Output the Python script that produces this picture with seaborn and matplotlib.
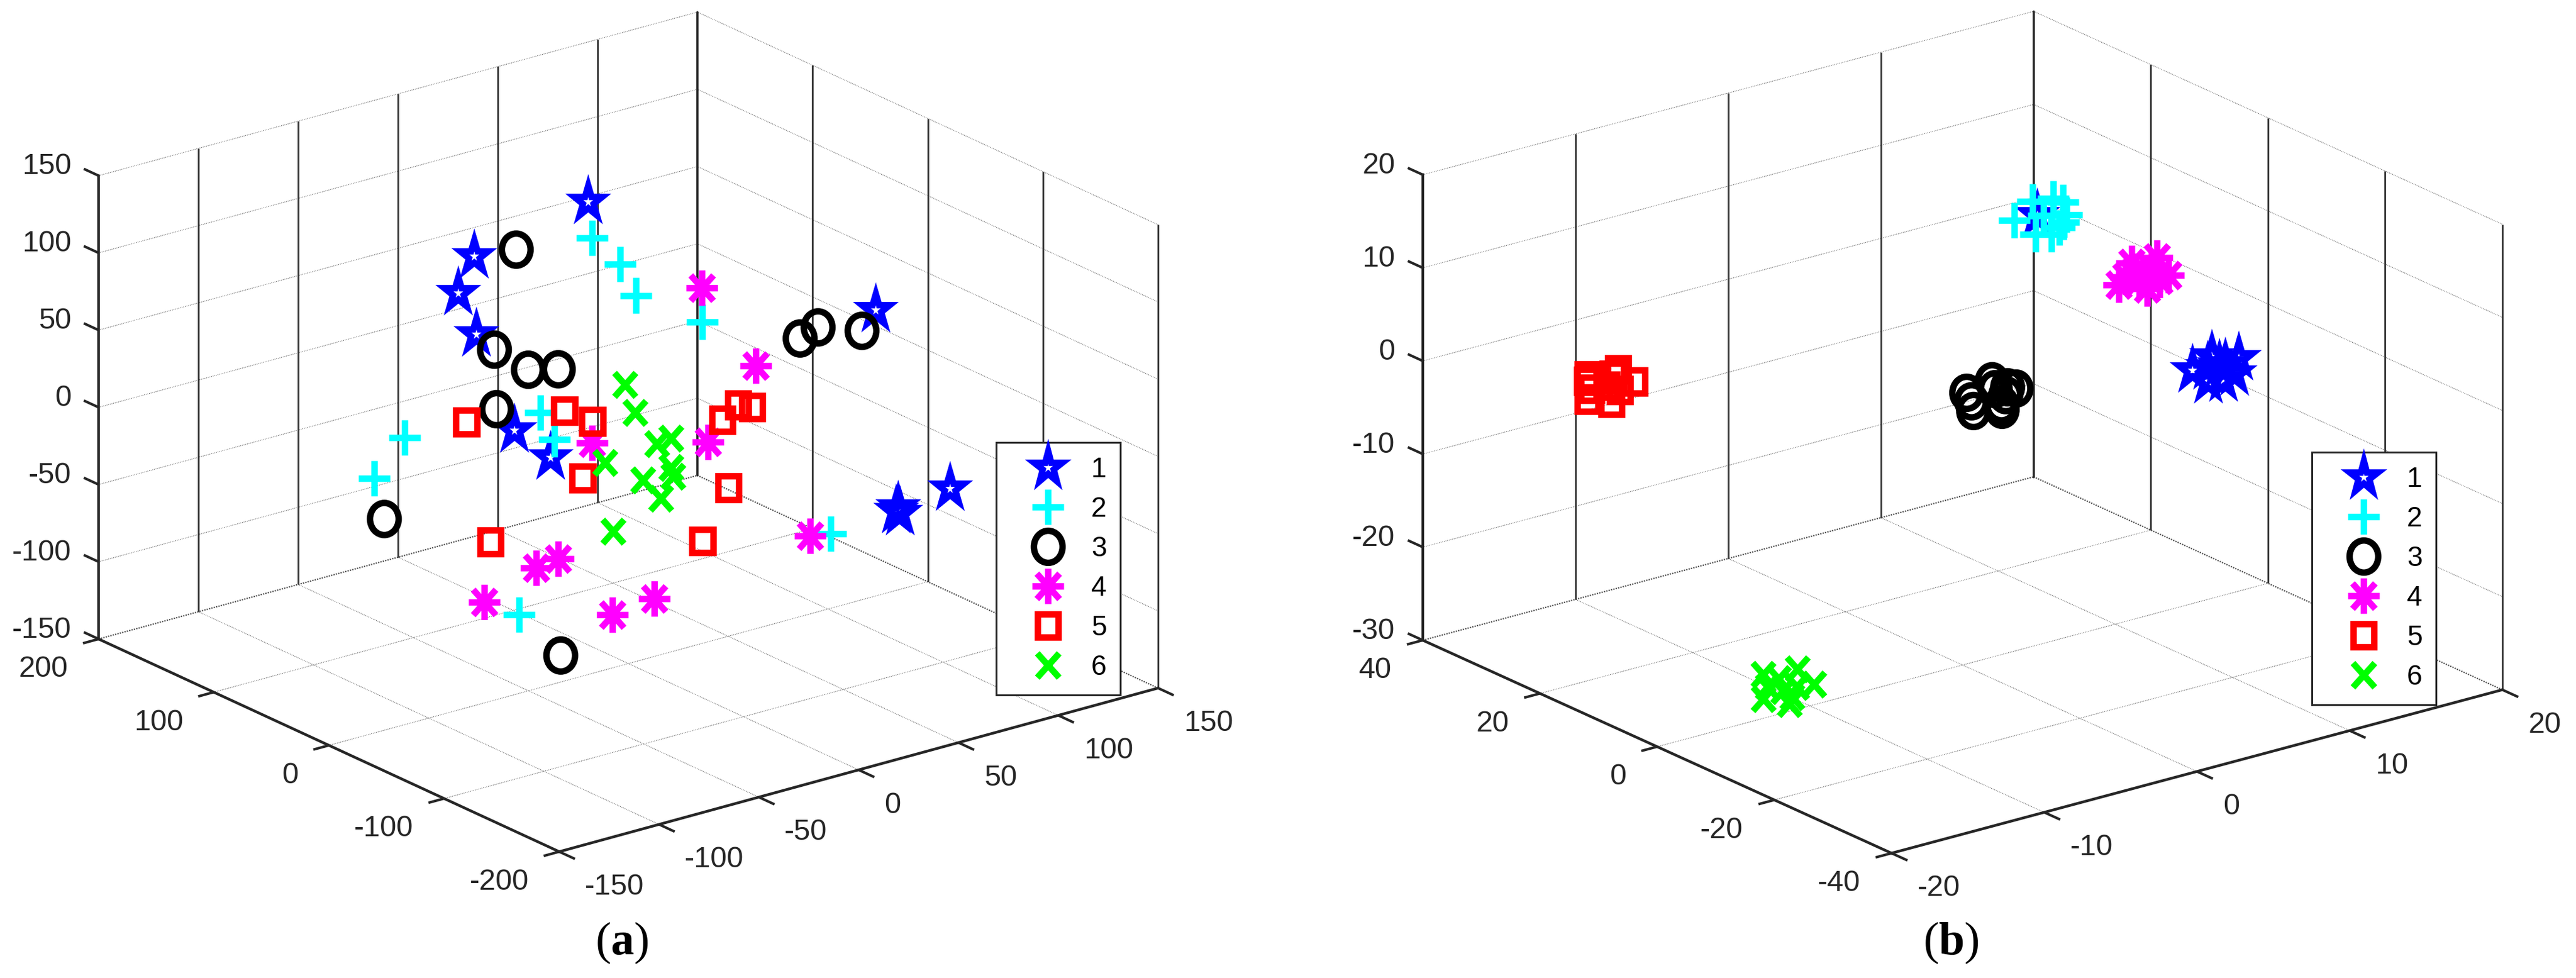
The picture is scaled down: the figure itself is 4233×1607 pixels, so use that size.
import matplotlib
matplotlib.use("Agg")
import matplotlib.pyplot as plt
import seaborn as sns
from matplotlib.lines import Line2D
from matplotlib.markers import MarkerStyle
from matplotlib.path import Path
from matplotlib.transforms import Affine2D
from mpl_toolkits.mplot3d import proj3d

# (x, y, z) per class, panel (a)
a_star = [(3, 40, 134), (-31, 80, 97), (-39, 80, 76), (-53, 40, 68), (-57, 0, 21), (-62, -40, 19),
          (124, 0, 35), (92, -120, -28), (66, -120, -31), (67, -120, -35), (65, -120, -33)]
a_plus = [(5, 40, 110), (19, 40, 88), (27, 40, 65), (37, 0, 58), (-44, 0, 28), (-60, -40, 30),
          (-66, 80, -8), (-58, 120, -51), (-101, -80, -55), (32, -120, -36)]
a_circle = [(-10, 80, 94), (-44, 40, 55), (-27, 40, 36), (-12, 40, 31), (-66, 0, 38), (63, -40, 52),
            (72, -40, 56), (94, -40, 46), (-53, 120, -79), (-80, -80, -89)]
a_asterisk = [(37, 0, 80), (64, 0, 20), (-18, 0, -1), (17, -40, 1), (22, -120, -34), (-33, -80, -69),
              (-46, 0, -72), (-35, 0, -70), (-72, 0, -85), (-54, -80, -72)]
a_square = [(-58, 40, 13), (-32, 0, 25), (-18, 0, 13), (-46, -40, 0), (24, -40, 13), (32, -40, 20),
            (39, -40, 16), (4, -80, -10), (-9, -80, -40), (-69, 0, -47)]
a_cross = [(10, 20, 20), (-8, -20, 22), (26, 20, -24), (10, -20, -1), (0, 20, -27), (10, -20, -20),
           (19, 20, -45), (11, -20, -26), (28, 20, -60), (-19, -20, -51)]

# (x, y, z) per class, panel (b)
b_star = [(7.70, -22.5, 6.18), (8.31, -25.5, 6.58), (6.43, -22.5, 5.24), (6.32, -25.5, 4.98), (8.46, -22.5, 3.37),
          (8.03, -25.5, 5.06), (8.58, -22.5, 4.95), (7.04, -25.5, 6.35), (7.42, -22.5, 5.13), (4.90, 0, 16.15)]
b_plus = [(5.15, 1.5, 17.12), (5.37, -1.5, 18.21), (7.14, 1.5, 16.17), (2.82, -1.5, 16.97), (5.35, 1.5, 13.50),
          (5.25, -1.5, 14.41), (6.90, 1.5, 13.53), (6.24, -1.5, 16.06), (5.87, 1.5, 15.30), (6.04, -1.5, 15.36)]
b_circle = [(2.38, 5.5, -3.38), (1.68, 2.5, -4.17), (4.05, 5.5, -2.87), (3.55, 2.5, -4.86), (5.61, 5.5, -4.34),
            (3.79, 2.5, -3.39), (2.70, 5.5, -4.43), (3.51, 2.5, -4.25), (4.25, 5.5, -3.81), (3.91, 2.5, -2.60)]
b_asterisk = [(8.72, -10.5, 12.90), (5.91, -13.5, 14.41), (9.47, -10.5, 10.68), (5.07, -13.5, 12.44), (8.08, -10.5, 9.85),
              (6.18, -13.5, 13.44), (8.36, -10.5, 11.95), (5.51, -13.5, 13.09), (7.56, -10.5, 10.96), (7.74, -13.5, 11.77)]
b_square = [(-17.84, 17.5, 3.92), (-18.98, 14.5, 2.66), (-15.84, 17.5, 3.70), (-17.34, 14.5, 4.62), (-16.28, 17.5, 0.29),
            (-16.87, 14.5, 2.78), (-14.77, 17.5, 1.92), (-18.74, 14.5, 3.73), (-16.60, 17.5, 2.26), (-19.02, 14.5, 4.71)]
b_cross = [(-15.53, -6.5, -22.38), (-16.67, -9.5, -23.63), (-13.29, -6.5, -22.78), (-13.36, -9.5, -23.52), (-13.81, -6.5, -26.28),
           (-15.67, -9.5, -21.92), (-15.25, -6.5, -23.81), (-15.39, -9.5, -23.34), (-13.33, -6.5, -24.65), (-14.79, -9.5, -24.25)]

class_labels = ["1", "2", "3", "4", "5", "6"]

a_xticks = [-150, -100, -50, 0, 50, 100, 150]
a_yticks = [-200, -100, 0, 100, 200]
a_zticks = [-150, -100, -50, 0, 50, 100, 150]
b_xticks = [-20, -10, 0, 10, 20]
b_yticks = [-40, -20, 0, 20, 40]
b_zticks = [-30, -20, -10, 0, 10, 20]

W, H = 4233, 1607
DARK = "#262626"

sns.set_theme(style="white")
plt.rcParams["font.family"] = ["Liberation Sans", "DejaVu Sans"]
plt.rcParams["mathtext.fontset"] = "custom"
plt.rcParams["mathtext.rm"] = "Liberation Serif"
plt.rcParams["mathtext.bf"] = "Liberation Serif:bold"

palette = sns.color_palette(["#0000ff", "#00ffff", "#000000", "#ff00ff", "#ff0000", "#00ff00"])

asterisk_path = Path(
    [(0, -1), (0, 1), (-1, 0), (1, 0), (-0.72, -0.72), (0.72, 0.72), (-0.72, 0.72), (0.72, -0.72)],
    [Path.MOVETO, Path.LINETO] * 4,
)
stretch = Affine2D().scale(1, 1.12)
mk = dict(fillstyle="none", transform=stretch, joinstyle="miter", capstyle="butt")
markers = [MarkerStyle(m, **mk) for m in ("*", "+", "o", asterisk_path, "s", "x")]
sizes = [1200, 1400, 1150, 1400, 620, 640]
EDGE = 7.6


def fit_axes(ax, left_px, right_px):
    # place the axes so the two side corners of the floor land on these pixels
    x0, x1, y0, y1, z0 = *ax.get_xlim(), *ax.get_ylim(), ax.get_zlim()[0]
    M = ax.get_proj()
    ul, vl, _ = proj3d.proj_transform(x0, y1, z0, M)
    ur, vr, _ = proj3d.proj_transform(x1, y0, z0, M)
    s = (right_px[0] - left_px[0]) / (ur - ul)
    lim = ax.viewLim
    left = left_px[0] - s * (ul - lim.x0)
    bottom = H - left_px[1] - s * (vl - lim.y0)
    ax.set_position([left / W, bottom / H, s * lim.width / W, s * lim.height / H])


def label_3d(ax, x, y, z, s, **kw):
    # plain 2D text at the projected spot
    u, v, _ = proj3d.proj_transform(x, y, z, ax.get_proj())
    ax.text2D(u, v, s, transform=ax.transData, **kw)


def draw_box(ax, xt, yt, zt):
    x0, x1, y0, y1, z0, z1 = xt[0], xt[-1], yt[0], yt[-1], zt[0], zt[-1]
    xr, yr, zr = x1 - x0, y1 - y0, z1 - z0
    dotted = dict(color="#555555", lw=0.8, ls=(0, (1, 1.5)), zorder=1)
    wall = dict(color="#3a3a3a", lw=2.1, zorder=1, solid_capstyle="butt")
    edge = dict(color=DARK, lw=3.2, zorder=1.5, solid_capstyle="projecting")

    # floor grid
    for x in xt[1:-1]:
        ax.plot([x, x], [y0, y1], [z0, z0], **dotted)
    for y in yt[1:-1]:
        ax.plot([x0, x1], [y, y], [z0, z0], **dotted)
    ax.plot([x0, x1], [y1, y1], [z0, z0], color="#555555", lw=1.6, ls=(0, (1, 0.8)), zorder=1)
    ax.plot([x1, x1], [y0, y1], [z0, z0], color="#555555", lw=1.6, ls=(0, (1, 0.8)), zorder=1)

    # back walls
    for z in zt[1:]:
        ax.plot([x0, x1, x1], [y1, y1, y0], [z, z, z], **dotted)
    for x in xt[1:-1]:
        ax.plot([x, x], [y1, y1], [z0, z1], **wall)
    for y in yt[:-1]:
        ax.plot([x1, x1], [y, y], [z0, z1], **wall)
    ax.plot([x1, x1], [y1, y1], [z0, z1], color=DARK, lw=2.6, zorder=1.5)

    # solid axes
    ax.plot([x0, x0], [y1, y1], [z0, z1], **edge)
    ax.plot([x0, x1], [y0, y0], [z0, z0], **edge)
    ax.plot([x0, x0], [y0, y1], [z0, z0], **edge)

    # ticks and their labels
    tick = dict(color=DARK, lw=3.0, zorder=1.5, solid_capstyle="butt")
    text = dict(fontsize=35, color=DARK, va="center")
    for x in xt:
        ax.plot([x, x], [y0, y0 - 0.034 * yr], [z0, z0], **tick)
        label_3d(ax, x - 0.0535 * xr, y0 - 0.125 * yr, z0, str(x), ha="left", **text)
    for y in yt:
        ax.plot([x0, x0 - 0.026 * xr], [y, y], [z0, z0], **tick)
        label_3d(ax, x0 - 0.101 * xr, y - 0.065 * yr, z0, str(y), ha="right", **text)
    for z in zt:
        ax.plot([x0, x0], [y1, y1 + 0.032 * yr], [z, z], **tick)
        label_3d(ax, x0 - 0.008 * xr, y1 + 0.049 * yr, z, str(z), ha="right", **text)


def draw_panel(rect_corners, view, aspect, ticks, classes, legend_xy):
    xt, yt, zt = ticks
    ax = fig.add_subplot(projection="3d", proj_type="ortho", computed_zorder=False)
    ax.view_init(elev=view[0], azim=view[1])
    ax.set_xlim(xt[0], xt[-1], view_margin=0)
    ax.set_ylim(yt[0], yt[-1], view_margin=0)
    ax.set_zlim(zt[0], zt[-1], view_margin=0)
    ax.set_box_aspect(aspect)
    ax.set_axis_off()
    ax.patch.set_visible(False)
    fit_axes(ax, *rect_corners)

    draw_box(ax, xt, yt, zt)

    handles = []
    for i, pts in enumerate(classes):
        xs, ys, zs = zip(*pts)
        col = ax.scatter(xs, ys, zs, marker=markers[i], s=sizes[i], linewidths=EDGE,
                         c=[palette[i]], depthshade=False, zorder=2 + i * 0.1)
        col.set_joinstyle("miter")
        col.set_capstyle("butt")
        handles.append(Line2D([], [], ls="none", marker=markers[i], markersize=sizes[i] ** 0.5,
                              mew=EDGE, mec=palette[i]))

    leg = ax.legend(handles, class_labels, loc="upper left",
                    bbox_to_anchor=(legend_xy[0] / W, 1 - legend_xy[1] / H),
                    bbox_transform=fig.transFigure, borderaxespad=0, fontsize=33,
                    borderpad=0.5, handlelength=2.71, handletextpad=0.19, labelspacing=0.46,
                    numpoints=1, fancybox=False, framealpha=1, edgecolor=DARK)
    leg.get_frame().set_linewidth(2.2)
    leg.set_zorder(5)
    for t in leg.get_texts():
        t.set_color("black")
    return ax


fig = plt.figure(figsize=(W / 100, H / 100), dpi=100, facecolor="white")

draw_panel(((162, 1050), (1903, 1130)), (20.8, -127.57), (1, 1, 0.656),
           (a_xticks, a_yticks, a_zticks),
           [a_star, a_plus, a_circle, a_asterisk, a_square, a_cross], (1637, 727))
draw_panel(((2338, 1052), (4112, 1132)), (20.4, -127.5), (1, 1, 0.645),
           (b_xticks, b_yticks, b_zticks),
           [b_star, b_plus, b_circle, b_asterisk, b_square, b_cross], (3799, 743))

caption = dict(family="Liberation Serif", fontsize=55, ha="center", va="center", color="black")
fig.text(1022 / W, 1 - 1549 / H, r"($\mathbf{a}$)", **caption)
fig.text(3206 / W, 1 - 1549 / H, r"($\mathbf{b}$)", **caption)

fig.savefig("out.png", dpi=100)
